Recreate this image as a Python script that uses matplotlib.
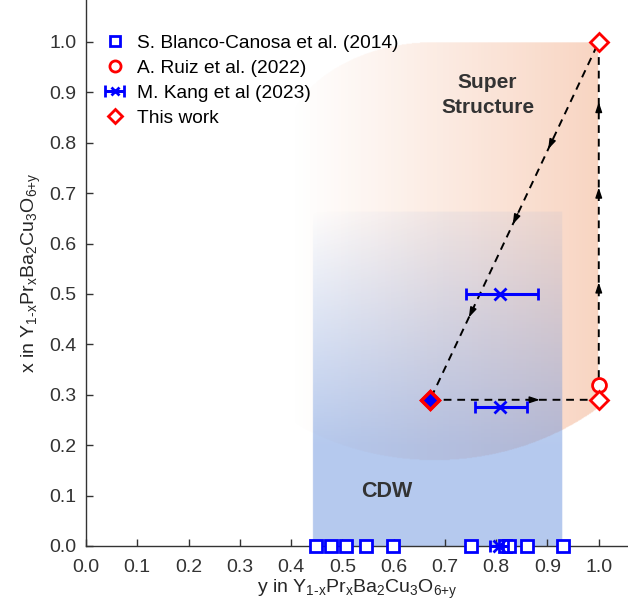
import numpy as np
import matplotlib

matplotlib.use("Agg")
import matplotlib.pyplot as plt  # noqa: E402

plt.rcParams["font.family"] = ["Liberation Sans", "DejaVu Sans"]
plt.rcParams["mathtext.fontset"] = "custom"
plt.rcParams["mathtext.rm"] = "Liberation Sans"
plt.rcParams["mathtext.it"] = "Liberation Sans"

# -- data (y = oxygen content on the x axis, x = Pr content on the y axis) ----
blanco_y = [0.448, 0.478, 0.508, 0.547, 0.599, 0.75, 0.818, 0.825, 0.86, 0.93]
blanco_x = [0.0, 0.0, 0.0, 0.0, 0.0, 0.0, 0.0, 0.0, 0.0, 0.0]

ruiz_y = [1.0]
ruiz_x = [0.32]

kang_y = [0.808, 0.808, 0.805]
kang_x = [0.5, 0.275, 0.0]
kang_err_lo = [0.066, 0.049, 0.018]
kang_err_hi = [0.073, 0.053, 0.018]

this_y = [0.671, 1.0, 1.0]
this_x = [0.29, 0.29, 1.0]
this_filled_y = [0.671]
this_filled_x = [0.29]

# sample route: (0.67,0.29) -> (1,0.29) -> (1,1) -> (0.67,0.29)
route_y = [0.671, 1.0, 1.0, 0.671]
route_x = [0.29, 0.29, 1.0, 0.29]
# arrowhead positions as fractions along each route segment
arrow_frac = [[0.65], [0.328, 0.593, 0.832], [0.30, 0.51, 0.77]]

XMAX, YMAX = 1.057, 1.083

fig = plt.figure(figsize=(6.28, 6.05), dpi=100)
ax = fig.add_axes([86 / 628, 59 / 605, 542 / 628, 546 / 605])

# -- shaded phase regions ------------------------------------------------------
gx = np.linspace(0, XMAX, 800)
gy = np.linspace(0, YMAX, 800)
X, Y = np.meshgrid(gx, gy)

# super-structure: rounded patch, orange growing towards y = 1
in_box = (X >= 0.38) & (X <= 1.0) & (Y <= 1.0)
corner = (X < 0.68) & (Y > 0.78) & (((X - 0.68) / 0.30) ** 2 + ((Y - 0.78) / 0.22) ** 2 > 1)
bottom = (Y < 0.62) & (((X - 0.68) / 0.5) ** 2 + ((Y - 0.62) / 0.45) ** 2 > 1)
orange_mask = in_box & ~corner & ~bottom
orange = np.zeros(X.shape + (4,))
orange[..., 0], orange[..., 1], orange[..., 2] = 0.93, 0.55, 0.35
orange[..., 3] = np.where(
    orange_mask, 0.37 * np.clip((X - 0.40) / 0.60, 0, 1) ** 1.05, 0
)

# CDW: blue block fading out upwards
blue_mask = (X >= 0.443) & (X <= 0.93) & (Y <= 0.663)
blue_alpha = np.where(Y < 0.2, 0.5, 0.5 - 0.42 * (Y - 0.2) / 0.463)
blue_alpha = blue_alpha - 0.08 * np.clip((0.7 - X) / 0.26, 0, 1) * np.clip((Y - 0.2) / 0.46, 0, 1)
blue = np.zeros(X.shape + (4,))
blue[..., 0], blue[..., 1], blue[..., 2] = 0.42, 0.58, 0.87
blue[..., 3] = np.where(blue_mask, np.clip(blue_alpha, 0, 1), 0)

for img in (orange, blue):
    ax.imshow(img, origin="lower", extent=(0, XMAX, 0, YMAX), aspect="auto",
              interpolation="bilinear", zorder=0)

# -- route with arrowheads -----------------------------------------------------
ax.plot(route_y, route_x, ls=(0, (4, 3)), color="black", lw=1.4, zorder=2)
for i, fracs in enumerate(arrow_frac):
    y0, x0 = route_y[i], route_x[i]
    y1, x1 = route_y[i + 1], route_x[i + 1]
    for t in fracs:
        py, px = y0 + t * (y1 - y0), x0 + t * (x1 - x0)
        qy, qx = py - 0.03 * (y1 - y0), px - 0.03 * (x1 - x0)
        ax.annotate("", xy=(py, px), xytext=(qy, qx),
                    arrowprops=dict(arrowstyle="-|>,head_length=0.6,head_width=0.2",
                                    color="black", lw=1.0, shrinkA=0, shrinkB=0),
                    zorder=3)

# -- data points ---------------------------------------------------------------
h_blanco, = ax.plot(blanco_y, blanco_x, "s", ms=8.5, mfc="white", mec="blue",
                    mew=2.0, ls="none", clip_on=False, zorder=5,
                    label="S. Blanco-Canosa et al. (2014)")
h_ruiz, = ax.plot(ruiz_y, ruiz_x, "o", ms=10, mfc="white", mec="red", mew=2.0,
                  ls="none", clip_on=False, zorder=5, label="A. Ruiz et al. (2022)")
h_kang = ax.errorbar(kang_y, kang_x, xerr=[kang_err_lo, kang_err_hi], fmt="x",
                     ms=8, mew=2.0, color="blue", ecolor="blue", elinewidth=2.2,
                     capsize=4, capthick=2.0, clip_on=False, zorder=6,
                     label="M. Kang et al (2023)")
h_this, = ax.plot(this_y, this_x, "D", ms=9, mfc="white", mec="red", mew=2.0,
                  ls="none", clip_on=False, zorder=7, label="This work")
ax.plot(this_filled_y, this_filled_x, "D", ms=9, mfc="blue", mec="red", mew=2.5,
        ls="none", zorder=8)

ax.text(0.783, 0.895, "Super\nStructure", ha="center", va="center", fontsize=15,
        fontweight="bold", color="#333333", linespacing=1.4, zorder=4)
ax.text(0.587, 0.109, "CDW", ha="center", va="center", fontsize=15.5,
        fontweight="bold", color="#333333", zorder=4)

# -- axes styling --------------------------------------------------------------
ax.set_xlim(0, XMAX)
ax.set_ylim(0, YMAX)
ticks = np.round(np.arange(0, 1.01, 0.1), 1)
ax.set_xticks(ticks)
ax.set_yticks(ticks)
ax.set_xticklabels([f"{t:.1f}" for t in ticks])
ax.set_yticklabels([f"{t:.1f}" for t in ticks])
ax.tick_params(direction="in", length=5, width=1.0, labelsize=14,
               colors="#333333")
ax.tick_params(axis="x", pad=9)
ax.tick_params(axis="y", pad=7)
for side in ("top", "right"):
    ax.spines[side].set_visible(False)
for side in ("left", "bottom"):
    ax.spines[side].set_color("#333333")
    ax.spines[side].set_linewidth(1.0)
ax.set_xlabel(r"y in Y$_{\text{1-x}}$Pr$_{\text{x}}$Ba$_{\text{2}}$Cu$_{\text{3}}$O$_{\text{6+y}}$",
              fontsize=14, color="#262626", labelpad=2)
ax.set_ylabel(r"x in Y$_{\text{1-x}}$Pr$_{\text{x}}$Ba$_{\text{2}}$Cu$_{\text{3}}$O$_{\text{6+y}}$",
              fontsize=14, color="#262626", labelpad=4)

ax.legend([h_blanco, h_ruiz, h_kang, h_this],
          ["S. Blanco-Canosa et al. (2014)", "A. Ruiz et al. (2022)",
           "M. Kang et al (2023)", "This work"],
          loc="upper left", bbox_to_anchor=(0.03, 0.937), frameon=False,
          fontsize=13.8, handlelength=1.3, handletextpad=0.5, markerscale=0.8,
          labelspacing=0.4, borderaxespad=0, borderpad=0)

fig.savefig("out.png", dpi=100)
